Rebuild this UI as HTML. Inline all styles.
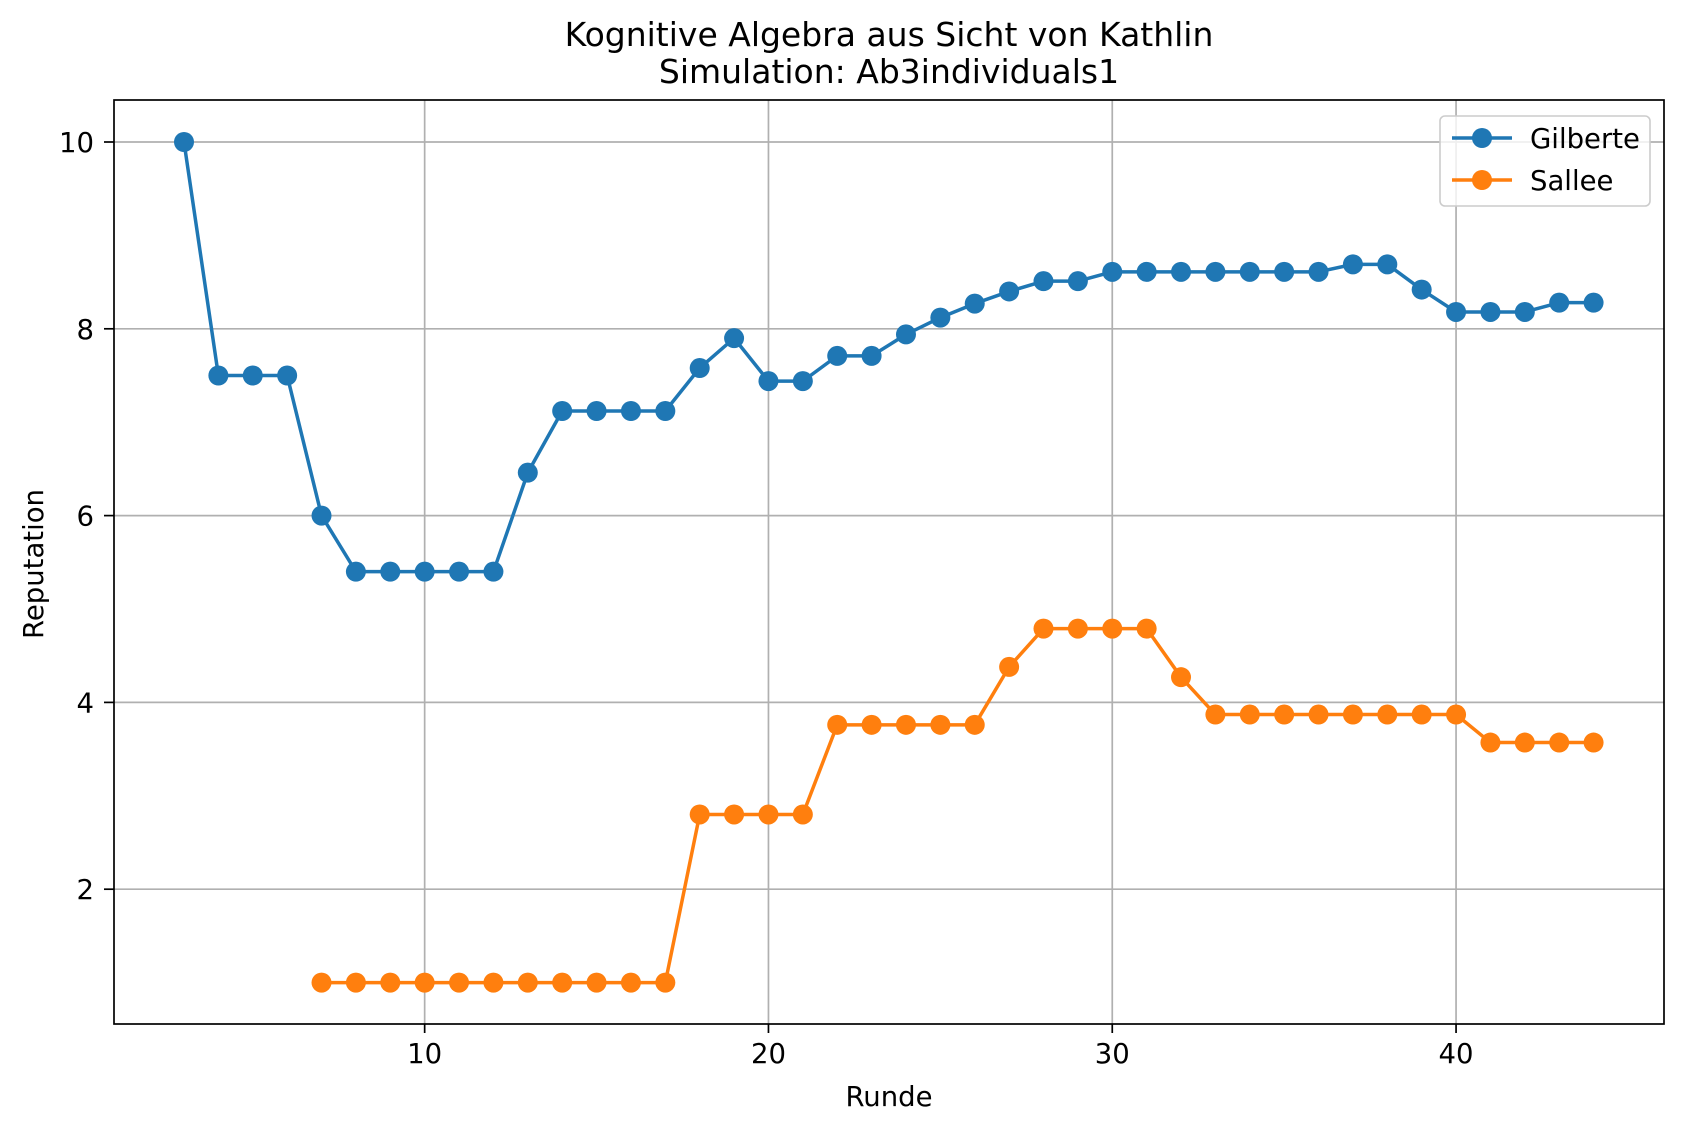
<!DOCTYPE html>
<html><head><meta charset="utf-8"><style>
html,body{margin:0;padding:0;background:#fff;}
svg{display:block;font-family:"DejaVu Sans","Liberation Sans",sans-serif;}
</style></head><body>
<svg id="chart" width="1683" height="1131" viewBox="0 0 1683 1131">
<rect width="1683" height="1131" fill="#fff"/>
<text x="889" y="46" text-anchor="middle" font-size="33">Kognitive Algebra aus Sicht von Kathlin</text>
<text x="889" y="83" text-anchor="middle" font-size="33">Simulation: Ab3individuals1</text>
<g id="grid"></g>
<g id="series"></g>
<rect x="114" y="100" width="1550" height="924" fill="none" stroke="#000" stroke-width="1.7"/>
<g id="ticks"></g>
<text x="889" y="1106" text-anchor="middle" font-size="27.5">Runde</text>
<text transform="translate(43,564) rotate(-90)" text-anchor="middle" font-size="27.5">Reputation</text>
<g>
<rect x="1440" y="116" width="210" height="90" rx="5" fill="#fff" fill-opacity="0.8" stroke="#ccc" stroke-width="1.6"/>
<g>
<line x1="1452" y1="138" x2="1512" y2="138" stroke="#1f77b4" stroke-width="3.5"/>
<circle cx="1482" cy="138" r="10" fill="#1f77b4"/>
<text x="1530" y="148" font-size="27.5">Gilberte</text></g>
<g>
<line x1="1452" y1="180" x2="1512" y2="180" stroke="#ff7f0e" stroke-width="3.5"/>
<circle cx="1482" cy="180" r="10" fill="#ff7f0e"/>
<text x="1530" y="190" font-size="27.5">Sallee</text></g>
</g>
</svg>
<script>
const gilberteX = [3,4,5,6,7,8,9,10,11,12,13,14,15,16,17,18,19,20,21,22,23,24,25,26,27,28,29,30,31,32,33,34,35,36,37,38,39,40,41,42,43,44];
const gilberteY = [10,7.5,7.5,7.5,6.0,5.4,5.4,5.4,5.4,5.4,6.46,7.12,7.12,7.12,7.12,7.58,7.9,7.44,7.44,7.71,7.71,7.94,8.12,8.27,8.4,8.51,8.51,8.61,8.61,8.61,8.61,8.61,8.61,8.61,8.69,8.69,8.42,8.18,8.18,8.18,8.28,8.28];
const salleeX = [7,8,9,10,11,12,13,14,15,16,17,18,19,20,21,22,23,24,25,26,27,28,29,30,31,32,33,34,35,36,37,38,39,40,41,42,43,44];
const salleeY = [1,1,1,1,1,1,1,1,1,1,1,2.8,2.8,2.8,2.8,3.76,3.76,3.76,3.76,3.76,4.38,4.79,4.79,4.79,4.79,4.27,3.87,3.87,3.87,3.87,3.87,3.87,3.87,3.87,3.57,3.57,3.57,3.57];
const xTicks = [10,20,30,40];
const yTicks = [2,4,6,8,10];
const NS="http://www.w3.org/2000/svg";
const sx = v => 184 + (v-3)*34.38;
const sy = v => 142 + (10-v)*93.4;
function mk(tag, attrs, parent){const e=document.createElementNS(NS,tag);for(const k in attrs)e.setAttribute(k,attrs[k]);parent.appendChild(e);return e;}
const grid=document.getElementById('grid'), ticks=document.getElementById('ticks'), series=document.getElementById('series');
xTicks.forEach(t=>{
  const g=mk('line',{x1:sx(t),x2:sx(t),y1:100,y2:1024,stroke:'#b0b0b0','stroke-width':1.7},grid);
  
  
  mk('line',{x1:sx(t),x2:sx(t),y1:1024,y2:1033,stroke:'#000','stroke-width':1.7},ticks);
  const tx=mk('text',{x:sx(t),y:1063,'text-anchor':'middle','font-size':27.5},ticks);
  tx.textContent=t;
  
  
});
yTicks.forEach(t=>{
  const g=mk('line',{x1:114,x2:1664,y1:sy(t),y2:sy(t),stroke:'#b0b0b0','stroke-width':1.7},grid);
  
  
  mk('line',{x1:104,x2:114,y1:sy(t),y2:sy(t),stroke:'#000','stroke-width':1.7},ticks);
  const tx=mk('text',{x:94,y:sy(t)+10,'text-anchor':'end','font-size':27.5},ticks);
  tx.textContent=t;
  
  
});
function drawSeries(xs, ys, color, name){
  const g=mk('g',{},series);
  
  
  const l=mk('polyline',{points:xs.map((x,i)=>sx(x)+','+sy(ys[i])).join(' '),fill:'none',stroke:color,'stroke-width':3.5,'stroke-linejoin':'round'},g);
  
  
  xs.forEach((x,i)=>{
    const c=mk('circle',{cx:sx(x),cy:sy(ys[i]),r:10,fill:color},g);
    
    
  });
}
drawSeries(gilberteX,gilberteY,'#1f77b4','gilberte');
drawSeries(salleeX,salleeY,'#ff7f0e','sallee');
</script>
</body></html>
